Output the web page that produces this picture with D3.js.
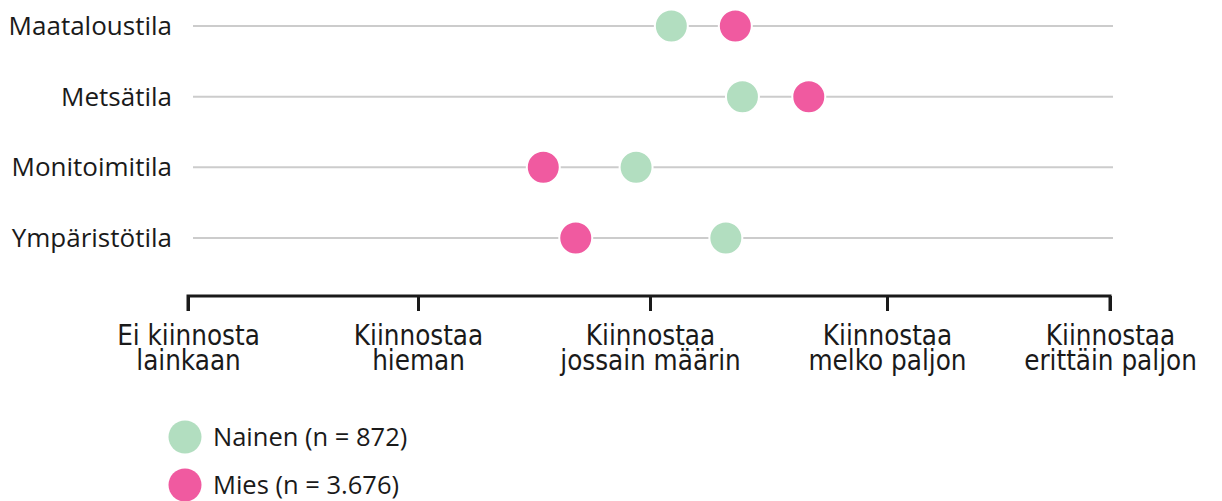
<!DOCTYPE html>
<html><head><meta charset="utf-8">
<script src="https://cdn.jsdelivr.net/npm/d3@7"></script>
<style>body{margin:0;background:#fff}</style>
</head><body>
<svg id="chart" width="1222" height="501"></svg>
<script>
const categories = ["Maataloustila", "Metsätila", "Monitoimitila", "Ympäristötila"];
const nainen = [3.09, 3.39, 2.94, 3.32];
const mies = [3.36, 3.67, 2.54, 2.68];
const tickValues = [1, 2, 3, 4, 5];
const tickLabels = [["Ei kiinnosta", "lainkaan"], ["Kiinnostaa", "hieman"], ["Kiinnostaa", "jossain määrin"], ["Kiinnostaa", "melko paljon"], ["Kiinnostaa", "erittäin paljon"]];
const seriesNames = ["Nainen (n = 872)", "Mies (n = 3.676)"];
const colors = ["#b2dec0", "#f05aa0"];

const svg = d3.select("#chart");
const x = d3.scaleLinear().domain(tickValues).range([188, 418, 650, 887, 1110]);
const y = d3.scalePoint().domain(categories).range([26, 238]);

// grid lines
svg.append("g").selectAll("line").data(categories).join("line")
  .attr("x1", 193).attr("x2", 1113)
  .attr("y1", d => y(d)).attr("y2", d => y(d))
  .attr("stroke", "#cccccc").attr("stroke-width", 2);

// category labels
svg.append("g").selectAll("text").data(categories).join("text")
  .attr("x", 172).attr("y", d => y(d)).attr("dy", "0.35em")
  .attr("text-anchor", "end")
  .attr("font-family", "Open Sans").attr("font-size", 26).attr("fill", "#1a1a1a")
  .text(d => d);

// dots
const series = [nainen, mies];
series.forEach((vals, si) => {
  svg.append("g").selectAll("circle").data(vals).join("circle")
    .attr("cx", d => x(d)).attr("cy", (d, i) => y(categories[i]))
    .attr("r", 16.5)
    .attr("fill", colors[si]).attr("stroke", "#fff").attr("stroke-width", 2);
});

// axis
const axisG = svg.append("g").attr("transform", "translate(0,296)");
axisG.call(d3.axisBottom(x).tickValues(tickValues).tickSize(15).tickSizeOuter(0).tickFormat(""));
axisG.select(".domain").attr("stroke", "#1a1a1a").attr("stroke-width", 3).attr("d", `M${x(1)},15V0H${x(5)}V15`);
axisG.selectAll(".tick line").attr("stroke", "#1a1a1a").attr("stroke-width", 3);
axisG.selectAll(".tick").each(function(d, i) {
  const t = d3.select(this).append("text")
    .attr("fill", "#1a1a1a").attr("text-anchor", "middle")
    .attr("font-family", "DejaVu Sans Condensed, DejaVu Sans").attr("font-stretch", "condensed")
    .attr("font-size", 27.5);
  tickLabels[i].forEach((line, li) => {
    t.append("tspan").attr("x", 0).attr("y", 49 + li * 25).text(line);
  });
});

// legend
const legend = svg.append("g");
seriesNames.forEach((name, i) => {
  const ly = 437 + i * 48;
  legend.append("circle").attr("cx", 185).attr("cy", ly).attr("r", 16.5).attr("fill", colors[i]);
  legend.append("text").attr("x", 213).attr("y", ly).attr("dy", "0.35em")
    .attr("font-family", "Open Sans").attr("font-size", 25.5).attr("fill", "#1a1a1a")
    .text(name);
});
</script>
</body></html>
